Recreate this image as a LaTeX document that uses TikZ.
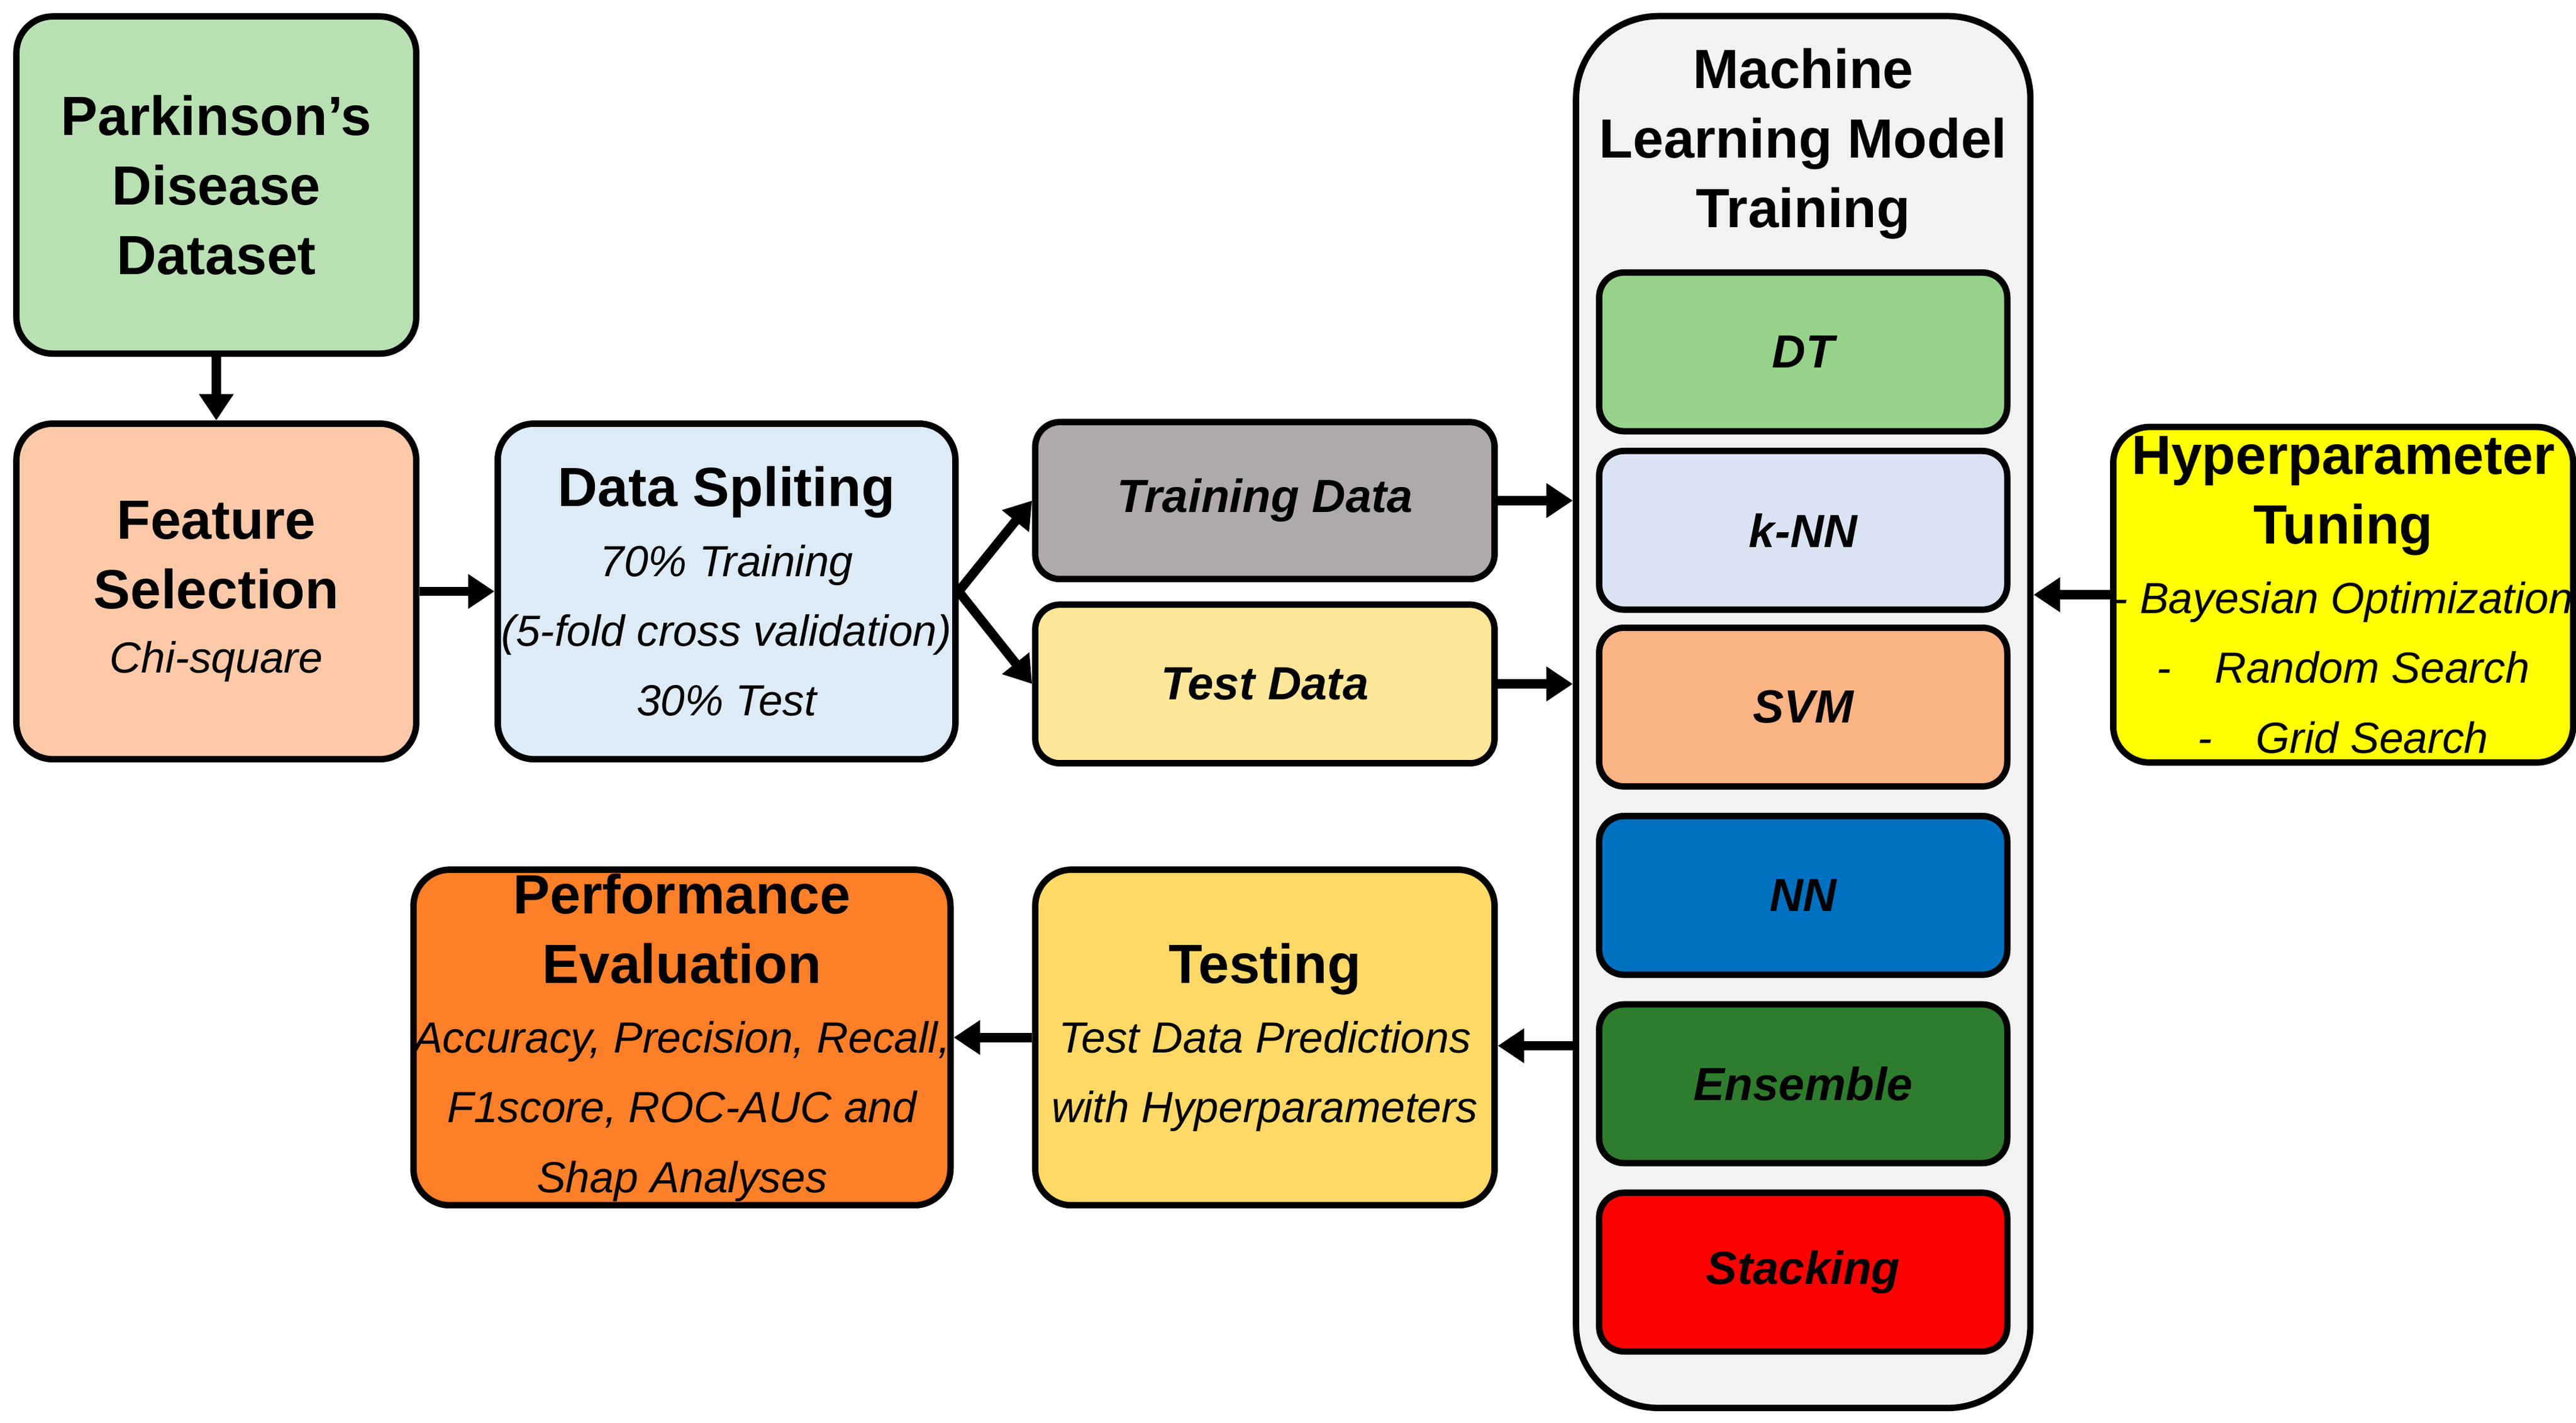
\documentclass[tikz,border=0pt]{standalone}
\usepackage{fontspec}
\setmainfont{Liberation Sans}
\usetikzlibrary{arrows.meta}
\definecolor{cpark}{HTML}{B9E0B2}
\definecolor{cfeat}{HTML}{FCC9A8}
\definecolor{csplit}{HTML}{DDEBF7}
\definecolor{ctrain}{HTML}{AEAAAA}
\definecolor{ctest}{HTML}{FFE699}
\definecolor{ccont}{HTML}{F2F2F2}
\definecolor{cdt}{HTML}{97D28A}
\definecolor{cknn}{HTML}{DAE3F3}
\definecolor{csvm}{HTML}{FCB383}
\definecolor{cnn}{HTML}{0070C0}
\definecolor{cens}{HTML}{2E7D2E}
\definecolor{cstack}{HTML}{FF0000}
\definecolor{chyp}{HTML}{FFFF00}
\definecolor{ctesting}{HTML}{FFD966}
\definecolor{cperf}{HTML}{FD7F28}
\begin{document}
\begin{tikzpicture}[x=0.01cm,y=-0.01cm,
  box/.style={draw=black,line width=1.1pt,rounded corners=0.22cm,align=center,inner sep=0pt},
  model/.style={box,minimum width=2.47cm,minimum height=0.96cm,font=\fontsize{8}{10}\selectfont\bfseries\itshape,rounded corners=0.15cm},
  arr/.style={line width=1.6pt,-{Triangle[length=0.16cm,width=0.2cm]}},
  ttl/.style={font=\fontsize{9.5}{12}\selectfont\bfseries},
  sub/.style={font=\fontsize{7.5}{9.5}\selectfont\itshape}]
\useasboundingbox (0,0) rectangle (1560,861);
\node[box,fill=ccont,minimum width=2.75cm,minimum height=8.42cm,rounded corners=0.5cm] (ml) at (1092,431) {};
\node[ttl,align=center] (mlt) at (1092,87) {Machine\\Learning Model\\Training};
\node[box,fill=cpark,minimum width=2.42cm,minimum height=2.04cm,ttl] (park) at (131,112) {Parkinson’s\\Disease\\Dataset};
\node[box,fill=cfeat,minimum width=2.42cm,minimum height=2.03cm] (feat) at (131,358) {\fontsize{9.5}{12}\selectfont\bfseries Feature\\\fontsize{9.5}{12}\selectfont\bfseries Selection\\[-1pt]\fontsize{7.5}{9.5}\selectfont\itshape Chi-square};
\node[box,fill=csplit,minimum width=2.77cm,minimum height=2.03cm] (split) at (440,358) {\fontsize{9.5}{12}\selectfont\bfseries Data Spliting\\\fontsize{7.5}{9.5}\selectfont\itshape 70\% Training\\\fontsize{7.5}{9.5}\selectfont\itshape (5-fold cross validation)\\\fontsize{7.5}{9.5}\selectfont\itshape 30\% Test};
\node[box,fill=ctrain,minimum width=2.78cm,minimum height=0.95cm,font=\fontsize{8}{10}\selectfont\bfseries\itshape,rounded corners=0.15cm] (train) at (766,303) {Training Data};
\node[box,fill=ctest,minimum width=2.78cm,minimum height=0.96cm,font=\fontsize{8}{10}\selectfont\bfseries\itshape,rounded corners=0.15cm] (test) at (766,414) {Test Data};
\node[model,fill=cdt] (dt) at (1092,213) {DT};
\node[model,fill=cknn] (knn) at (1092,321) {k-NN};
\node[model,fill=csvm] (svm) at (1092,428) {SVM};
\node[model,fill=cnn] (nn) at (1092,542) {NN};
\node[model,fill=cens] (ens) at (1092,656) {Ensemble};
\node[model,fill=cstack] (stk) at (1092,770) {Stacking};
\node[box,fill=chyp,minimum width=2.76cm,minimum height=2.03cm] (hyp) at (1419,360) {\fontsize{9.5}{12}\selectfont\bfseries Hyperparameter\\\fontsize{9.5}{12}\selectfont\bfseries Tuning\\\fontsize{7.5}{9.5}\selectfont\itshape - Bayesian Optimization\\\fontsize{7.5}{9.5}\selectfont\itshape -\quad Random Search\\\fontsize{7.5}{9.5}\selectfont\itshape -\quad Grid Search};
\node[box,fill=ctesting,minimum width=2.78cm,minimum height=2.03cm] (testing) at (766,628) {\fontsize{9.5}{12}\selectfont\bfseries Testing\\\fontsize{7.5}{9.5}\selectfont\itshape Test Data Predictions\\\fontsize{7.5}{9.5}\selectfont\itshape with Hyperparameters};
\node[box,fill=cperf,minimum width=3.25cm,minimum height=2.03cm] (perf) at (413,628) {\fontsize{9.5}{12}\selectfont\bfseries Performance\\\fontsize{9.5}{12}\selectfont\bfseries Evaluation\\\fontsize{7.5}{9.5}\selectfont\itshape Accuracy, Precision, Recall,\\\fontsize{7.5}{9.5}\selectfont\itshape F1score, ROC-AUC and\\\fontsize{7.5}{9.5}\selectfont\itshape Shap Analyses};
\draw[arr] (park) -- (feat);
\draw[arr] (feat) -- (split);
\draw[arr] (split.east) -- (train.west);
\draw[arr] (split.east) -- (test.west);
\draw[arr] (train.east) -- (train.east -| ml.west);
\draw[arr] (test.east) -- (test.east -| ml.west);
\draw[arr] (hyp.west) -- (hyp.west -| ml.east);
\draw[arr] (ml.west |- testing.east) ++(0,5) -- ([yshift=-0.05cm]testing.east);
\draw[arr] (testing.west) -- (perf.east);
\end{tikzpicture}
\end{document}
